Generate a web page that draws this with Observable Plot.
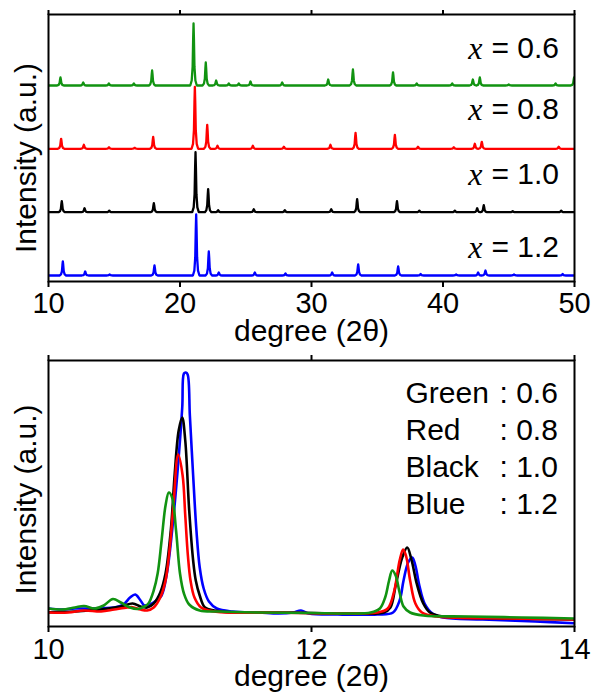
<!DOCTYPE html>
<html>
<head>
<meta charset="utf-8">
<script src="https://cdn.jsdelivr.net/npm/d3@7"></script>
<script src="https://cdn.jsdelivr.net/npm/@observablehq/plot@0.6"></script>
<style>
  body { margin: 0; background: #fff; }
  #chart { width: 593px; height: 699px; position: relative; }
  #chart svg { display: block; }
</style>
</head>
<body>
<div id="chart"></div>
<script>
// ---------- data ----------
const compositions = ["0.6", "0.8", "1.0", "1.2"];
const colorNames = ["Green", "Red", "Black", "Blue"];
const colors = ["#119311", "#ff0000", "#000000", "#0000ff"];

// top panel: stacked patterns, 2θ 10–50 (offsets and peak heights in a.u.)
const offsets = [196, 132.7, 69.3, 6];
const labelY = [233, 172, 107, 34];
const xTicksTop = [10, 20, 30, 40, 50];

const peaks06 = [[10.91,8],[12.64,3],[14.59,2],[16.49,2],[17.88,15],[21.03,62],[21.96,23],[22.75,5],[23.71,2],[24.47,2],[25.36,4],[27.77,3],[31.27,6],[33.15,16],[36.2,13],[38.0,2],[40.7,2],[42.27,6],[42.8,8],[45.0,1],[48.56,2],[49.97,8]];
const peaks08 = [[10.96,10],[12.69,4],[14.6,1.5],[16.55,1],[17.96,12],[21.13,62],[22.07,24],[22.85,3],[25.54,3],[27.9,2],[31.44,4],[33.35,16],[36.34,14],[38.1,2],[40.82,1.5],[42.42,5],[42.95,7],[48.8,2]];
const peaks10 = [[11.01,11],[12.74,4],[14.62,1.5],[18.01,9],[21.18,60],[22.14,23],[22.9,2],[25.61,3],[27.97,2],[31.5,3],[33.47,13],[36.5,11],[38.2,1.5],[40.9,1.5],[42.6,4],[43.1,7],[45.3,1],[48.99,1.5]];
const peaks12 = [[11.09,14],[12.79,4],[14.65,1],[18.06,10],[21.23,61],[22.19,24],[22.95,3],[25.69,3],[28.02,2],[31.57,3],[33.55,11],[36.59,9],[38.3,1.5],[41.0,1],[42.67,3],[43.23,5],[45.4,1],[49.1,1.5]];

// bottom panel: zoom 2θ 10–14, traced points [2θ, intensity]
const xTicksBottom = [10, 12, 14];
const zoom06 = [[10.00,17],[10.10,16],[10.20,18],[10.27,19.5],[10.35,17],[10.42,20],[10.49,26.5],[10.55,23],[10.62,18],[10.68,16.5],[10.73,19],[10.76,22],[10.80,35],[10.83,52],[10.86,85],[10.89,120],[10.915,133],[10.94,128],[10.97,95],[11.00,52],[11.03,32],[11.07,21],[11.15,15],[11.3,14],[11.6,13],[12.0,12.5],[12.3,12],[12.45,13],[12.52,17],[12.56,28],[12.59,45],[12.614,55],[12.64,50],[12.67,33],[12.70,19],[12.75,13],[12.85,10],[13.2,9],[13.6,8],[14.0,7]];
const zoom08 = [[10.00,13],[10.15,13],[10.27,15],[10.4,14],[10.5,16],[10.6,18],[10.64,18.3],[10.7,16],[10.75,15],[10.80,18],[10.85,28],[10.89,45],[10.92,75],[10.95,120],[10.986,171],[11.02,150],[11.04,110],[11.06,70],[11.08,45],[11.11,28],[11.16,18],[11.22,15],[11.35,13],[11.7,13],[12.2,12],[12.5,13],[12.58,17],[12.63,35],[12.67,65],[12.697,76],[12.72,69],[12.75,45],[12.79,22],[12.84,13],[12.95,9],[13.5,7],[14.0,6]];
const zoom10 = [[10.00,13.3],[10.2,14],[10.4,16],[10.55,19],[10.64,22],[10.7,19],[10.75,18],[10.80,22],[10.85,33],[10.89,52],[10.93,95],[10.96,152],[10.99,195],[11.017,208],[11.04,185],[11.07,115],[11.10,65],[11.12,45],[11.15,30],[11.19,18],[11.26,15],[11.4,13],[11.8,13],[12.3,12],[12.55,13],[12.60,18],[12.64,40],[12.69,68],[12.728,78],[12.76,66],[12.80,42],[12.85,22],[12.90,13],[13.0,9],[13.5,7],[14.0,6]];
const zoom12 = [[10.00,17],[10.1,16],[10.2,17],[10.3,17],[10.4,17.5],[10.5,18],[10.57,21],[10.62,28],[10.66,31],[10.70,25],[10.73,20],[10.77,21],[10.82,25],[10.86,30],[10.90,52],[10.94,95],[10.98,152],[11.017,218],[11.03,252],[11.044,253],[11.058,251],[11.075,210],[11.10,150],[11.125,95],[11.15,58],[11.18,37],[11.22,24],[11.28,17],[11.4,14],[11.6,13],[11.75,12],[11.86,13],[11.92,15],[11.98,12],[12.2,11],[12.5,11],[12.62,13],[12.67,25],[12.70,45],[12.735,63],[12.766,68],[12.79,60],[12.82,40],[12.86,22],[12.92,12],[13.0,8],[13.3,6],[13.7,4],[14.0,2.3]];

// ---------- helpers ----------
const peakSets = [peaks06, peaks08, peaks10, peaks12];
const zoomSets = [zoom06, zoom08, zoom10, zoom12];
const profile = [[-0.25,0],[-0.14,0.08],[-0.07,0.3],[-0.03,0.75],[0,1],[0.03,0.75],[0.07,0.3],[0.14,0.08],[0.25,0]];
function pattern(peaks, base) {
  const pts = [[10, base], [50.5, base]];
  for (const [p, h] of peaks) for (const [dx, f] of profile) pts.push([p + dx, base + f * h]);
  return pts.sort((a, b) => a[0] - b[0]);
}

const SANS = "'Liberation Sans', Arial, Helvetica, sans-serif";
const fmt = d3.format("d");
const chart = document.getElementById("chart");

// ---------- top panel ----------
const topMarks = [];
peakSets.forEach((pk, i) => {
  topMarks.push(Plot.line(pattern(pk, offsets[i]), {x: d => d[0], y: d => d[1], stroke: colors[i], strokeWidth: 2.3, strokeLinejoin: "round", clip: true}));
});
const topLabels = compositions.map((c, i) => ({c, y: labelY[i]}));
topMarks.push(
  Plot.text(topLabels, {y: "y", text: d => "= " + d.c, frameAnchor: "right", textAnchor: "start", dx: -83, fontSize: 30, fill: "black"}),
  Plot.text(topLabels, {y: "y", text: () => "x", frameAnchor: "right", textAnchor: "end", dx: -92, fontSize: 32, fontStyle: "italic", fontFamily: "'Liberation Serif', 'Times New Roman', serif", fill: "black"}),
  Plot.frame({stroke: "black", strokeWidth: 2}),
  Plot.axisX({anchor: "bottom", ticks: xTicksTop, tickSize: 6, tickPadding: 5, tickFormat: fmt, fontSize: 29, strokeWidth: 2, label: null}),
  Plot.axisX({anchor: "top", ticks: xTicksTop, tickSize: 5, tickFormat: () => "", strokeWidth: 2, label: null}),
  Plot.text(["degree (2θ)"], {text: d => d, frameAnchor: "bottom", textAnchor: "middle", lineAnchor: "top", dy: 38, fontSize: 30, fill: "black"}),
  Plot.text(["Intensity (a.u.)"], {text: d => d, frameAnchor: "left", textAnchor: "middle", lineAnchor: "middle", rotate: -90, dx: -22, dy: 10, fontSize: 30, fill: "black"})
);
const topPlot = Plot.plot({
  width: 593, height: 340,
  marginLeft: 48, marginRight: 19, marginTop: 14, marginBottom: 59,
  style: {fontFamily: SANS, color: "black", background: "white", overflow: "visible"},
  x: {domain: [10, 50], label: null, axis: null},
  y: {domain: [0, 267], axis: null},
  marks: topMarks
});
chart.appendChild(topPlot);

// ---------- bottom panel ----------
const botMarks = [];
[3, 2, 1, 0].forEach(i => {
  botMarks.push(Plot.line(zoomSets[i], {x: d => d[0], y: d => d[1], stroke: colors[i], strokeWidth: 2.6, curve: "catmull-rom", clip: true}));
});
botMarks.push(
  Plot.text([colorNames.join("\n")], {text: d => d, frameAnchor: "top-right", textAnchor: "start", lineAnchor: "top", lineHeight: 1.233, dx: -169, dy: 16, fontSize: 30, fill: "black"}),
  Plot.text([compositions.map(c => ": " + c).join("\n")], {text: d => d, frameAnchor: "top-right", textAnchor: "start", lineAnchor: "top", lineHeight: 1.233, dx: -75, dy: 16, fontSize: 30, fill: "black"}),
  Plot.frame({stroke: "black", strokeWidth: 2}),
  Plot.axisX({anchor: "bottom", ticks: xTicksBottom, tickSize: 6, tickPadding: 6, tickFormat: fmt, fontSize: 29, strokeWidth: 2, label: null}),
  Plot.axisX({anchor: "top", ticks: xTicksBottom, tickSize: 6, tickFormat: () => "", strokeWidth: 2, label: null}),
  Plot.text(["degree (2θ)"], {text: d => d, frameAnchor: "bottom", textAnchor: "middle", lineAnchor: "top", dy: 38, fontSize: 30, fill: "black"}),
  Plot.text(["Intensity (a.u.)"], {text: d => d, frameAnchor: "left", textAnchor: "middle", lineAnchor: "middle", rotate: -90, dx: -22, dy: 6, fontSize: 30, fill: "black"})
);
const botPlot = Plot.plot({
  width: 593, height: 359,
  marginLeft: 48, marginRight: 19, marginTop: 20, marginBottom: 73,
  style: {fontFamily: SANS, color: "black", background: "white", overflow: "visible"},
  x: {domain: [10, 14], label: null, axis: null},
  y: {domain: [-1, 265], axis: null},
  marks: botMarks
});
chart.appendChild(botPlot);
</script>
</body>
</html>
